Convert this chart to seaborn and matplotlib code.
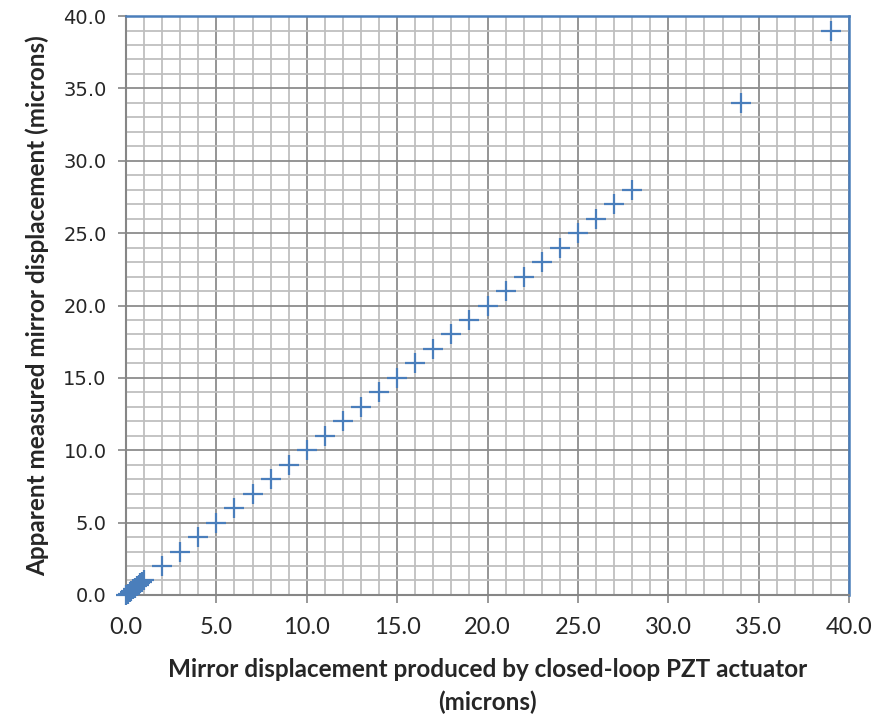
import matplotlib
matplotlib.use("Agg")
import matplotlib.pyplot as plt
import seaborn as sns
import numpy as np
import pandas as pd
from matplotlib.ticker import MultipleLocator, FormatStrFormatter

x_vals = [0.0, 0.1, 0.2, 0.3, 0.4, 0.5, 0.6, 0.7, 0.8, 0.9, 1.0,
          2, 3, 4, 5, 6, 7, 8, 9, 10, 11, 12, 13, 14, 15, 16, 17, 18, 19, 20,
          21, 22, 23, 24, 25, 26, 27, 28, 34, 39]
y_vals = [0.0, 0.1, 0.2, 0.3, 0.4, 0.5, 0.6, 0.7, 0.8, 0.9, 1.0,
          2, 3, 4, 5, 6, 7, 8, 9, 10, 11, 12, 13, 14, 15, 16, 17, 18, 19, 20,
          21, 22, 23, 24, 25, 26, 27, 28, 34, 39]
x_label = "Mirror displacement produced by closed-loop PZT actuator\n(microns)"
y_label = "Apparent measured mirror displacement (microns)"

df = pd.DataFrame({"x": x_vals, "y": y_vals})

sns.set_style("white")
plt.rcParams['font.family'] = ['Lato', 'DejaVu Sans']

fig = plt.figure(figsize=(8.91, 7.19), dpi=100)
ax = fig.add_axes([0.1414, 0.1725, 0.8115, 0.8052])

blue = "#4A7EBB"
sns.scatterplot(data=df, x="x", y="y", ax=ax, marker="+", s=220,
                color=blue, linewidth=1.6, zorder=5, clip_on=False)

ax.set_xlim(0, 40)
ax.set_ylim(0, 40)
ax.xaxis.set_major_locator(MultipleLocator(5))
ax.yaxis.set_major_locator(MultipleLocator(5))
ax.xaxis.set_minor_locator(MultipleLocator(1))
ax.yaxis.set_minor_locator(MultipleLocator(1))
ax.xaxis.set_major_formatter(FormatStrFormatter("%.1f"))
ax.yaxis.set_major_formatter(FormatStrFormatter("%.1f"))

ax.grid(which="minor", color="#BFBFBF", linewidth=1.3, zorder=0)
ax.grid(which="major", color="#8C8C8C", linewidth=1.3, zorder=1)
ax.set_axisbelow(True)

for s in ["left", "bottom"]:
    ax.spines[s].set_color("#868686")
    ax.spines[s].set_linewidth(1.5)
for s in ["top", "right"]:
    ax.spines[s].set_color(blue)
    ax.spines[s].set_linewidth(1.8)

ax.tick_params(axis="both", which="major", direction="out", length=6,
               width=1.2, color="#868686", bottom=True, left=True)
ax.tick_params(axis="both", which="minor", length=0)
ax.tick_params(axis="x", labelsize=17, pad=10)
ax.tick_params(axis="y", labelsize=14, pad=8)
for lab in ax.get_yticklabels():
    lab.set_fontfamily("DejaVu Sans")

ax.set_xlabel(x_label, fontsize=17.5, fontweight="bold", labelpad=14, linespacing=1.5)
ax.set_ylabel(y_label, fontsize=17.5, fontweight="bold", labelpad=10)

fig.savefig("out.png", dpi=100)
